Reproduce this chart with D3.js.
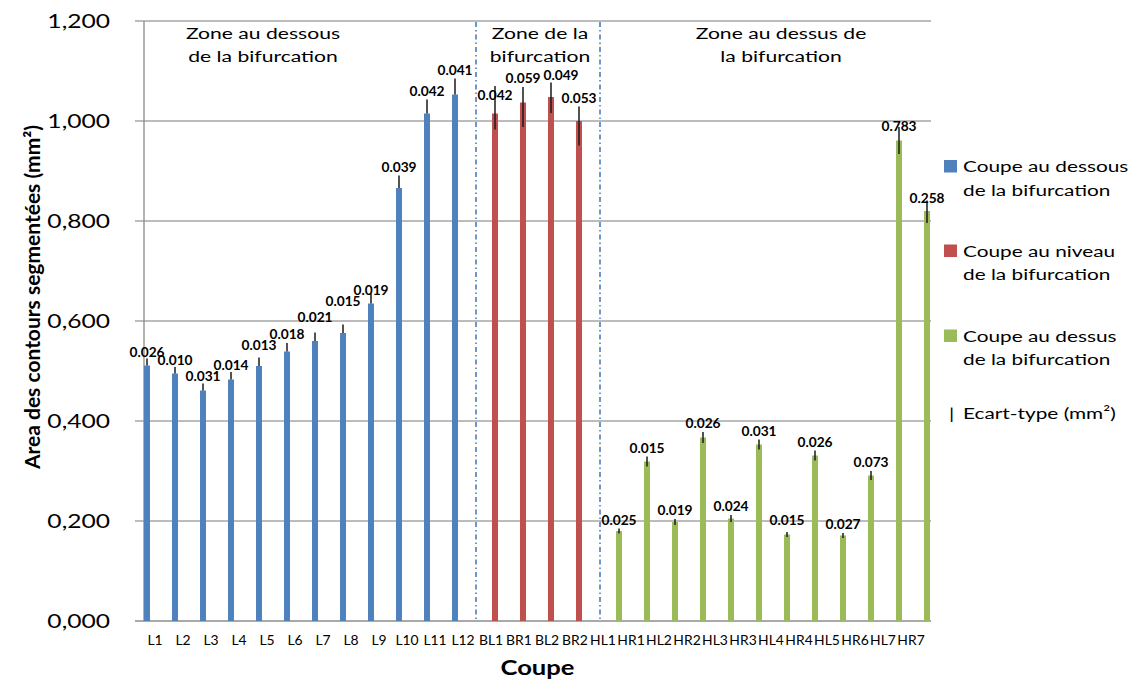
<!DOCTYPE html>
<html>
<head>
<meta charset="utf-8">
<script src="https://cdn.jsdelivr.net/npm/d3@7"></script>
<style>
  html, body { margin: 0; padding: 0; background: #fff; }
  svg { display: block; }
  text { font-family: Lato, "Open Sans", sans-serif; }
</style>
</head>
<body>
<svg id="chart" width="1134" height="681"></svg>
<script>
// ---------------- data ----------------
const categories = ["L1","L2","L3","L4","L5","L6","L7","L8","L9","L10","L11","L12",
  "BL1","BR1","BL2","BR2",
  "HL1","HR1","HL2","HR2","HL3","HR3","HL4","HR4","HL5","HR6","HL7","HR7"];
// series index per category: 0 = dessous, 1 = niveau, 2 = dessus
const categorySeries = [0,0,0,0,0,0,0,0,0,0,0,0, 1,1,1,1, 2,2,2,2,2,2,2,2,2,2,2,2];
const values = [0.511,0.495,0.461,0.483,0.510,0.539,0.560,0.576,0.635,0.866,1.015,1.053,
  1.015,1.037,1.048,1.000,
  0.180,0.319,0.198,0.367,0.205,0.353,0.173,0.331,0.171,0.291,0.961,0.820];
const errHigh = [0.525,0.508,0.475,0.498,0.527,0.556,0.577,0.593,0.655,0.891,1.043,1.085,
  1.070,1.068,1.077,1.029,
  0.185,0.329,0.204,0.378,0.212,0.363,0.178,0.341,0.176,0.300,0.988,0.841];
const errLow = [0.511,0.495,0.461,0.483,0.510,0.539,0.560,0.576,0.635,0.866,1.015,1.053,
  0.983,0.988,1.016,0.951,
  0.175,0.309,0.192,0.356,0.198,0.343,0.168,0.321,0.166,0.282,0.934,0.796];
const stdLabels = ["0.026","0.010","0.031","0.014","0.013","0.018","0.021","0.015","0.019","0.039","0.042","0.041",
  "0.042","0.059","0.049","0.053",
  "0.025","0.015","0.019","0.026","0.024","0.031","0.015","0.026","0.027","0.073","0.783","0.258"];
const seriesNames = [["Coupe au dessous","de la bifurcation"],["Coupe au niveau","de la bifurcation"],["Coupe au dessus","de la bifurcation"]];
const zoneLabels = [["Zone au dessous","de la bifurcation"],["Zone de la","bifurcation"],["Zone au dessus de","la bifurcation"]];
const yTicks = [0, 0.2, 0.4, 0.6, 0.8, 1.0, 1.2];
const errLegendLabel = "Ecart-type (mm²)";
const yTitle = "Area des contours segmentées (mm²)";
const xTitle = "Coupe";

// ---------------- layout ----------------
const colors = ["#4f81bd", "#c0504d", "#9bbb59"];
const svg = d3.select("#chart");
const plotLeft = 145, plotRight = 929, plotTop = 21, plotBottom = 621;

const x = d3.scaleBand().domain(categories).range([plotLeft, plotRight]).padding(0);
const y = d3.scaleLinear().domain([0, 1.2]).range([plotBottom, plotTop]);
const slot = 12, barW = 6;
const barX = i => x(categories[i]) + x.bandwidth() / 2 + (categorySeries[i] - 1) * slot;

function sText(g, px, py, str, o) {
  return g.append("text")
    .attr("transform", `translate(${px},${py}) scale(${o.sx || 1},1)`)
    .attr("text-anchor", o.anchor || "start")
    .style("font-size", o.size + "px")
    .style("font-weight", o.weight || "normal")
    .attr("fill", o.fill || "#000")
    .text(str);
}

// gridlines
const grid = svg.append("g");
grid.selectAll("line").data(yTicks).join("line")
  .attr("x1", plotLeft - 10).attr("x2", plotRight + 2)
  .attr("y1", d => y(d)).attr("y2", d => y(d))
  .attr("stroke", d => d === 0 ? "#8c8c8c" : "#a6a6a6").attr("stroke-width", 1.3);
// y axis line
svg.append("line").attr("x1", plotLeft - 1).attr("x2", plotLeft - 1)
  .attr("y1", y(1.2)).attr("y2", y(0)).attr("stroke", "#8c8c8c").attr("stroke-width", 1.3);

// y tick labels
const fmt = d3.format(".3f");
yTicks.forEach(t => sText(svg, 110, y(t) + 7, fmt(t).replace(".", ","), {size: 18.5, sx: 1.33, anchor: "end"}));

// zone dividers
const dividerXs = [(barX(11) + barX(12)) / 2 + 1, (barX(15) + barX(16)) / 2 + 1];
dividerXs.forEach(dx => svg.append("line")
  .attr("x1", dx).attr("x2", dx).attr("y1", y(1.2) + 1).attr("y2", y(0))
  .attr("stroke", "#4a7ebb").attr("stroke-width", 1.6)
  .attr("stroke-dasharray", "5,3,1.5,3"));

// bars
svg.append("g").selectAll("rect").data(values).join("rect")
  .attr("x", (d, i) => barX(i) - barW / 2)
  .attr("width", barW)
  .attr("y", d => y(d))
  .attr("height", d => y(0) - y(d))
  .attr("fill", (d, i) => colors[categorySeries[i]]);

// error bars
svg.append("g").selectAll("line").data(values).join("line")
  .attr("x1", (d, i) => barX(i)).attr("x2", (d, i) => barX(i))
  .attr("y1", (d, i) => y(errHigh[i])).attr("y2", (d, i) => y(errLow[i]))
  .attr("stroke", "#1a1a1a").attr("stroke-width", 1.5);

// data labels (std values), nudged like the manually placed labels of the original
const labelNudgeY = {L1: 2, L2: 2, L3: 1, L4: 2, L5: -4, L7: -7, L8: -15, L9: 5, BL1: 18, BL2: 1, HL4: -3, HL7: 8, HR7: 6};
const labelNudgeX = {BL2: 10};
const lblG = svg.append("g");
stdLabels.forEach((s, i) => {
  const c = categories[i];
  const yy = y(errHigh[i]) - 4 + (labelNudgeY[c] || 0);
  sText(lblG, barX(i) + (labelNudgeX[c] || 0), yy, s, {size: 12.5, weight: "bold", sx: 1.1, anchor: "middle"});
});

// x tick labels
categories.forEach((c, i) => sText(svg, x(c) + x.bandwidth() / 2 - 4, 645, c, {size: 13, sx: 1.07, anchor: "middle"}));

// zone labels
const zoneXs = [263, 540, 781];
zoneLabels.forEach((lines, k) => {
  lines.forEach((ln, j) => sText(svg, zoneXs[k], 38.5 + j * 23.5, ln, {size: 16, sx: 1.32, anchor: "middle"}));
});

// axis titles
sText(svg, (plotLeft - 1 + plotRight + 2) / 2, 675, xTitle, {size: 21, weight: "bold", sx: 1.22, anchor: "middle"});
svg.append("text")
  .attr("transform", `translate(40,297) rotate(-90)`)
  .attr("text-anchor", "middle")
  .style("font-size", "21px").style("font-weight", "bold")
  .text(yTitle);

// legend
const leg = svg.append("g");
const legTops = [160, 244.5, 329.5];
seriesNames.forEach((lines, k) => {
  leg.append("rect").attr("x", 944).attr("y", legTops[k]).attr("width", 13).attr("height", 12.5).attr("fill", colors[k]);
  lines.forEach((ln, j) => sText(leg, 963, legTops[k] + 12 + j * 23.5, ln, {size: 16, sx: 1.3}));
});
sText(leg, 951.5, 418.5, "|", {size: 16, sx: 1.3, anchor: "middle"});
sText(leg, 963, 418.5, errLegendLabel, {size: 16, sx: 1.3});
</script>
</body>
</html>
